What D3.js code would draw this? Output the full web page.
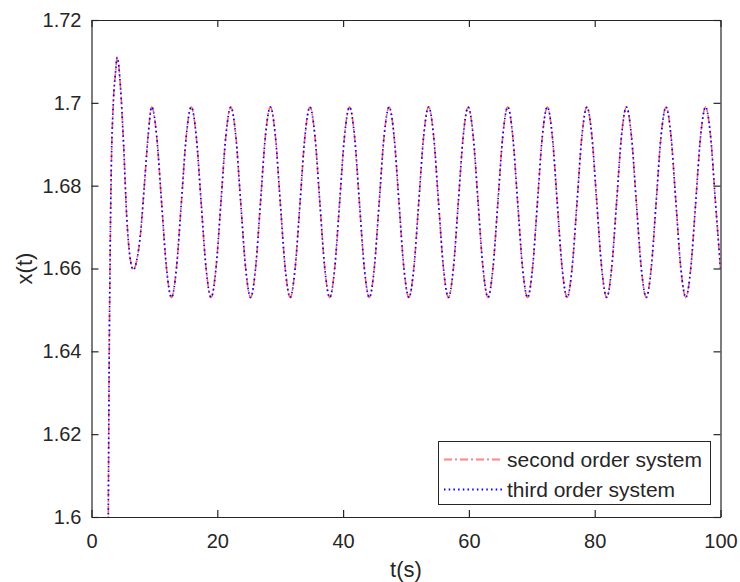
<!DOCTYPE html>
<html>
<head>
<meta charset="utf-8">
<script src="https://cdn.jsdelivr.net/npm/d3@7"></script>
<style>
  body { margin: 0; background: #fff; }
  text { font-family: "Liberation Sans", Arial, Helvetica, sans-serif; fill: #262626; }
</style>
</head>
<body>
<svg id="chart" width="740" height="582"></svg>
<script>
// sample times (s)
var time = [
  2.55, 2.67, 2.82, 2.94, 3.10, 3.47, 3.80, 4.10, 4.60, 5.10, 5.60, 6.10, 6.65, 7.20, 7.80, 8.40, 9.00,
  9.57, 10.36, 11.14, 11.93, 12.72, 13.50, 14.29, 15.07,
  15.86, 16.65, 17.43, 18.22, 19.01, 19.79, 20.58, 21.36,
  22.15, 22.94, 23.72, 24.51, 25.30, 26.08, 26.87, 27.65,
  28.44, 29.23, 30.01, 30.80, 31.59, 32.37, 33.16, 33.94,
  34.73, 35.52, 36.30, 37.09, 37.88, 38.66, 39.45, 40.23,
  41.02, 41.81, 42.59, 43.38, 44.17, 44.95, 45.74, 46.52,
  47.31, 48.10, 48.88, 49.67, 50.46, 51.24, 52.03, 52.81,
  53.60, 54.39, 55.17, 55.96, 56.75, 57.53, 58.32, 59.10,
  59.89, 60.68, 61.46, 62.25, 63.04, 63.82, 64.61, 65.39,
  66.18, 66.97, 67.75, 68.54, 69.33, 70.11, 70.90, 71.68,
  72.47, 73.26, 74.04, 74.83, 75.62, 76.40, 77.19, 77.97,
  78.76, 79.55, 80.33, 81.12, 81.91, 82.69, 83.48, 84.26,
  85.05, 85.84, 86.62, 87.41, 88.20, 88.98, 89.77, 90.55,
  91.34, 92.13, 92.91, 93.70, 94.49, 95.27, 96.06, 96.84,
  97.63, 98.42, 99.20, 100
];

// second order system response x(t)
var xSecond = [
  1.570, 1.600, 1.640, 1.660, 1.680, 1.700, 1.707, 1.711, 1.704, 1.690, 1.6725, 1.6630, 1.6597, 1.6620, 1.6685, 1.680, 1.692,
  1.699, 1.692, 1.676, 1.660, 1.653, 1.660, 1.676, 1.692,
  1.699, 1.692, 1.676, 1.660, 1.653, 1.660, 1.676, 1.692,
  1.699, 1.692, 1.676, 1.660, 1.653, 1.660, 1.676, 1.692,
  1.699, 1.692, 1.676, 1.660, 1.653, 1.660, 1.676, 1.692,
  1.699, 1.692, 1.676, 1.660, 1.653, 1.660, 1.676, 1.692,
  1.699, 1.692, 1.676, 1.660, 1.653, 1.660, 1.676, 1.692,
  1.699, 1.692, 1.676, 1.660, 1.653, 1.660, 1.676, 1.692,
  1.699, 1.692, 1.676, 1.660, 1.653, 1.660, 1.676, 1.692,
  1.699, 1.692, 1.676, 1.660, 1.653, 1.660, 1.676, 1.692,
  1.699, 1.692, 1.676, 1.660, 1.653, 1.660, 1.676, 1.692,
  1.699, 1.692, 1.676, 1.660, 1.653, 1.660, 1.676, 1.692,
  1.699, 1.692, 1.676, 1.660, 1.653, 1.660, 1.676, 1.692,
  1.699, 1.692, 1.676, 1.660, 1.653, 1.660, 1.676, 1.692,
  1.699, 1.692, 1.676, 1.660, 1.653, 1.660, 1.676, 1.692,
  1.699, 1.692, 1.676, 1.660
];

// third order system: lies on top of the second order curve in the picture
var xThird = xSecond.slice();

var xTicks = [0, 20, 40, 60, 80, 100];
var yTicks = [1.6, 1.62, 1.64, 1.66, 1.68, 1.7, 1.72];
var seriesNames = ['second order system', 'third order system'];

var plotLeft = 91.5, plotRight = 720.5, plotTop = 20, plotBottom = 517;
var svg = d3.select('#chart');

var x = d3.scaleLinear().domain([0, 100]).range([plotLeft, plotRight]);
var y = d3.scaleLinear().domain([1.6, 1.72]).range([plotBottom, plotTop]);

svg.append('rect').attr('width', 740).attr('height', 582).attr('fill', '#fff');

svg.append('defs').append('clipPath').attr('id', 'plotclip')
  .append('rect')
  .attr('x', plotLeft).attr('y', plotTop)
  .attr('width', plotRight - plotLeft).attr('height', plotBottom - plotTop);

// axes, ticks inward on all four sides
var tickLen = 7;
var bottomAxis = d3.axisBottom(x).tickValues(xTicks).tickSizeInner(-tickLen).tickSizeOuter(0).tickPadding(17);
var topAxis = d3.axisTop(x).tickValues(xTicks).tickSizeInner(-tickLen).tickSizeOuter(0).tickFormat('');
var leftAxis = d3.axisLeft(y).tickValues(yTicks).tickSizeInner(-tickLen).tickSizeOuter(0).tickPadding(10)
  .tickFormat(function(d){ return String(+d.toFixed(2)); });
var rightAxis = d3.axisRight(y).tickValues(yTicks).tickSizeInner(-tickLen).tickSizeOuter(0).tickFormat('');

function styleAxis(g){
  g.select('.domain').attr('stroke', '#262626').attr('stroke-width', 1.2);
  g.selectAll('.tick line').attr('stroke', '#262626').attr('stroke-width', 1.2);
  g.selectAll('.tick text')
    .attr('fill', '#262626')
    .style('font-size', '20px')
    .style('font-family', '"Liberation Sans", Arial, sans-serif');
}

svg.append('g').attr('transform', 'translate(0,' + plotBottom + ')').call(bottomAxis).call(styleAxis);
svg.append('g').attr('transform', 'translate(0,' + plotTop + ')').call(topAxis).call(styleAxis);
svg.append('g').attr('transform', 'translate(' + plotLeft + ',0)').call(leftAxis).call(styleAxis);
svg.append('g').attr('transform', 'translate(' + plotRight + ',0)').call(rightAxis).call(styleAxis);

// curves
var pts2 = time.map(function(t, i){ return [t, xSecond[i]]; });
var pts3 = time.map(function(t, i){ return [t, xThird[i]]; });

var line = d3.line()
  .x(function(d){ return x(d[0]); })
  .y(function(d){ return y(d[1]); })
  .curve(d3.curveMonotoneX);

var plot = svg.append('g').attr('clip-path', 'url(#plotclip)');

plot.append('path')
  .attr('d', line(pts2))
  .attr('fill', 'none')
  .attr('stroke', '#ff2020')
  .attr('stroke-opacity', 0.7)
  .attr('stroke-width', 1.6)
  .attr('stroke-dasharray', '8,3,2,3');

plot.append('path')
  .attr('d', line(pts3))
  .attr('fill', 'none')
  .attr('stroke', '#0000ff')
  .attr('stroke-width', 1.7)
  .attr('stroke-dasharray', '1.5,3.2');

// axis titles
svg.append('text')
  .attr('x', (plotLeft + plotRight) / 2).attr('y', 577)
  .attr('text-anchor', 'middle')
  .style('font-size', '22px')
  .text('t(s)');

svg.append('text')
  .attr('transform', 'translate(32,' + (plotTop + plotBottom) / 2 + ') rotate(-90)')
  .attr('text-anchor', 'middle')
  .style('font-size', '22px')
  .text('x(t)');

// legend
var legend = svg.append('g');
legend.append('rect')
  .attr('x', 438.5).attr('y', 441.5)
  .attr('width', 272).attr('height', 63)
  .attr('fill', '#fff')
  .attr('stroke', '#262626')
  .attr('stroke-width', 1);

var legendStyles = [
  { stroke: '#ff2020', opacity: 0.55, dash: '8,3,2,3' },
  { stroke: '#0000ff', opacity: 1, dash: '1.5,3.2' }
];

seriesNames.forEach(function(name, i){
  var ly = 459.5 + i * 30;
  legend.append('line')
    .attr('x1', 444).attr('x2', 502)
    .attr('y1', ly).attr('y2', ly)
    .attr('stroke', legendStyles[i].stroke)
    .attr('stroke-opacity', legendStyles[i].opacity)
    .attr('stroke-width', 1.8)
    .attr('stroke-dasharray', legendStyles[i].dash);
  legend.append('text')
    .attr('x', 507).attr('y', ly + 7)
    .style('font-size', '21px')
    .text(name);
});
</script>
</body>
</html>
